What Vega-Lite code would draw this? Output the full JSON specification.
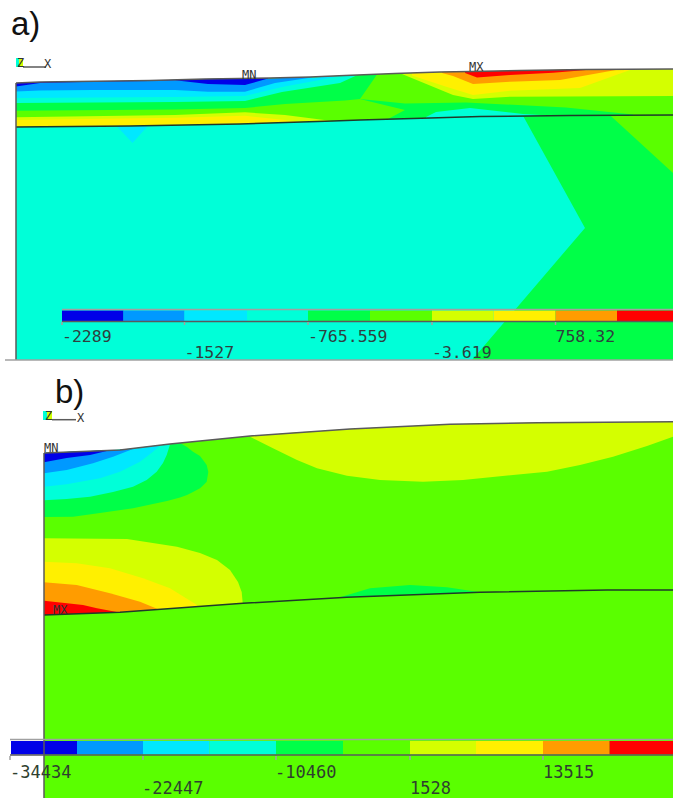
{"$schema":"https://vega.github.io/schema/vega-lite/v6.json","width":673,"height":798,"padding":0,"autosize":{"type":"none"},"background":"white","config":{"view":{"stroke":null}},
"datasets":{
"regions":[
{"region":"a01","band":"B6","x":16,"y":83,"y2":128},{"region":"a01","band":"B6","x":40,"y":82,"y2":128},{"region":"a01","band":"B6","x":150,"y":80.5,"y2":128},{"region":"a01","band":"B6","x":205,"y":79,"y2":128},{"region":"a01","band":"B6","x":270,"y":78,"y2":128},{"region":"a01","band":"B6","x":310,"y":77,"y2":128},{"region":"a01","band":"B6","x":345,"y":75.5,"y2":128},{"region":"a01","band":"B6","x":395,"y":73.5,"y2":128},{"region":"a01","band":"B6","x":440,"y":72,"y2":128},{"region":"a01","band":"B6","x":470,"y":71.5,"y2":128},{"region":"a01","band":"B6","x":520,"y":70.5,"y2":128},{"region":"a01","band":"B6","x":585,"y":69.5,"y2":128},{"region":"a01","band":"B6","x":673,"y":69,"y2":128},
{"region":"a02","band":"B1","x":16,"y":83,"y2":128},{"region":"a02","band":"B1","x":40,"y":82,"y2":128},{"region":"a02","band":"B1","x":150,"y":80.5,"y2":128},{"region":"a02","band":"B1","x":205,"y":79,"y2":128},{"region":"a02","band":"B1","x":268,"y":78,"y2":128},
{"region":"a03","band":"B2","x":16,"y":86.5,"y2":128},{"region":"a03","band":"B2","x":40,"y":83,"y2":128},{"region":"a03","band":"B2","x":93,"y":81.8,"y2":128},{"region":"a03","band":"B2","x":150,"y":81,"y2":128},{"region":"a03","band":"B2","x":175,"y":80.3,"y2":128},{"region":"a03","band":"B2","x":208,"y":84,"y2":128},{"region":"a03","band":"B2","x":245,"y":85,"y2":128},{"region":"a03","band":"B2","x":268,"y":78.5,"y2":128},{"region":"a03","band":"B2","x":312,"y":77,"y2":128},
{"region":"a04","band":"B3","x":16,"y":91.5,"y2":128},{"region":"a04","band":"B3","x":40,"y":90.5,"y2":128},{"region":"a04","band":"B3","x":93,"y":90,"y2":128},{"region":"a04","band":"B3","x":175,"y":90,"y2":128},{"region":"a04","band":"B3","x":208,"y":91.7,"y2":128},{"region":"a04","band":"B3","x":245,"y":91.7,"y2":128},{"region":"a04","band":"B3","x":275,"y":83,"y2":128},{"region":"a04","band":"B3","x":312,"y":77.5,"y2":128},{"region":"a04","band":"B3","x":340,"y":76,"y2":128},
{"region":"a05","band":"B4","x":16,"y":98,"y2":128},{"region":"a05","band":"B4","x":175,"y":97,"y2":128},{"region":"a05","band":"B4","x":245,"y":96,"y2":128},{"region":"a05","band":"B4","x":282,"y":87,"y2":128},{"region":"a05","band":"B4","x":340,"y":76.3,"y2":128},{"region":"a05","band":"B4","x":357,"y":75,"y2":128},
{"region":"a06","band":"B5","x":16,"y":103,"y2":128},{"region":"a06","band":"B5","x":175,"y":102,"y2":128},{"region":"a06","band":"B5","x":245,"y":101,"y2":128},{"region":"a06","band":"B5","x":282,"y":92,"y2":128},{"region":"a06","band":"B5","x":340,"y":83,"y2":128},{"region":"a06","band":"B5","x":357,"y":75.3,"y2":110},{"region":"a06","band":"B5","x":360,"y":75.2,"y2":99},{"region":"a06","band":"B5","x":377,"y":74.4,"y2":74.4},
{"region":"a07","band":"B5","x":360,"y":99,"y2":128},{"region":"a07","band":"B5","x":405,"y":103.5,"y2":128},{"region":"a07","band":"B5","x":466,"y":102.5,"y2":128},{"region":"a07","band":"B5","x":566,"y":107.5,"y2":128},{"region":"a07","band":"B5","x":633,"y":114.5,"y2":128},
{"region":"a08","band":"B6","x":16,"y":110.7,"y2":128},{"region":"a08","band":"B6","x":175,"y":109.5,"y2":128},{"region":"a08","band":"B6","x":245,"y":108,"y2":128},{"region":"a08","band":"B6","x":285,"y":104,"y2":128},{"region":"a08","band":"B6","x":345,"y":100.5,"y2":128},{"region":"a08","band":"B6","x":360,"y":99,"y2":128},{"region":"a08","band":"B6","x":371,"y":101.7,"y2":128},{"region":"a08","band":"B6","x":405,"y":110,"y2":110},
{"region":"a09","band":"B7","x":16,"y":117.3,"y2":128},{"region":"a09","band":"B7","x":175,"y":115,"y2":128},{"region":"a09","band":"B7","x":245,"y":112.3,"y2":128},{"region":"a09","band":"B7","x":285,"y":115,"y2":128},{"region":"a09","band":"B7","x":332,"y":121,"y2":128},
{"region":"a10","band":"B8","x":16,"y":120,"y2":128},{"region":"a10","band":"B8","x":175,"y":117.7,"y2":128},{"region":"a10","band":"B8","x":245,"y":115.7,"y2":128},{"region":"a10","band":"B8","x":285,"y":120,"y2":128},{"region":"a10","band":"B8","x":308,"y":122.5,"y2":128},
{"region":"a11","band":"B4","x":426,"y":117,"y2":128},{"region":"a11","band":"B4","x":436,"y":112,"y2":128},{"region":"a11","band":"B4","x":470,"y":108,"y2":128},{"region":"a11","band":"B4","x":523,"y":114,"y2":128},{"region":"a11","band":"B4","x":550,"y":115.5,"y2":128},
{"region":"a12","band":"B7","x":402,"y":73.3,"y2":74},{"region":"a12","band":"B7","x":453,"y":71.8,"y2":95},{"region":"a12","band":"B7","x":473,"y":71.4,"y2":99},{"region":"a12","band":"B7","x":510,"y":70.7,"y2":96.7},{"region":"a12","band":"B7","x":673,"y":69,"y2":96},
{"region":"a13","band":"B8","x":412,"y":73,"y2":75.5},{"region":"a13","band":"B8","x":447,"y":71.9,"y2":87},{"region":"a13","band":"B8","x":473,"y":71.4,"y2":95},{"region":"a13","band":"B8","x":510,"y":70.7,"y2":90.7},{"region":"a13","band":"B8","x":580,"y":69.6,"y2":88},{"region":"a13","band":"B8","x":630,"y":69.3,"y2":70},
{"region":"a14","band":"B9","x":442,"y":72,"y2":73},{"region":"a14","band":"B9","x":453,"y":71.8,"y2":76},{"region":"a14","band":"B9","x":473,"y":71.4,"y2":84},{"region":"a14","band":"B9","x":510,"y":70.7,"y2":81.7},{"region":"a14","band":"B9","x":560,"y":69.9,"y2":80},{"region":"a14","band":"B9","x":616,"y":69.3,"y2":70},
{"region":"a15","band":"B10","x":465,"y":71.5,"y2":73},{"region":"a15","band":"B10","x":477,"y":71.3,"y2":77.5},{"region":"a15","band":"B10","x":510,"y":70.7,"y2":75},{"region":"a15","band":"B10","x":553,"y":70,"y2":72.7},{"region":"a15","band":"B10","x":586,"y":69.5,"y2":70},
{"region":"a16","band":"B4","x":16,"y":127,"y2":360},{"region":"a16","band":"B4","x":130,"y":126,"y2":360},{"region":"a16","band":"B4","x":185,"y":125,"y2":360},{"region":"a16","band":"B4","x":240,"y":124,"y2":360},{"region":"a16","band":"B4","x":270,"y":123,"y2":360},{"region":"a16","band":"B4","x":333,"y":121,"y2":360},{"region":"a16","band":"B4","x":360,"y":120,"y2":360},{"region":"a16","band":"B4","x":430,"y":118,"y2":360},{"region":"a16","band":"B4","x":480,"y":116.5,"y2":360},{"region":"a16","band":"B4","x":570,"y":115.5,"y2":360},{"region":"a16","band":"B4","x":673,"y":115,"y2":360},
{"region":"a17","band":"B3","x":117,"y":126.4,"y2":126.4},{"region":"a17","band":"B3","x":132.5,"y":126,"y2":143},{"region":"a17","band":"B3","x":148,"y":125.7,"y2":125.7},
{"region":"a18","band":"B5","x":472,"y":116.8,"y2":360},{"region":"a18","band":"B5","x":570,"y":115.5,"y2":360},{"region":"a18","band":"B5","x":673,"y":115,"y2":360},
{"region":"a19","band":"B6","x":610,"y":115.3,"y2":115.3},{"region":"a19","band":"B6","x":673,"y":115,"y2":173},
{"region":"a20","band":"B4","x":472,"y":116.8,"y2":360},{"region":"a20","band":"B4","x":523,"y":115.8,"y2":300.4},{"region":"a20","band":"B4","x":585,"y":228,"y2":228},
{"region":"b01","band":"B6","x":44,"y":453,"y2":798},{"region":"b01","band":"B6","x":120,"y":450,"y2":798},{"region":"b01","band":"B6","x":170,"y":444,"y2":798},{"region":"b01","band":"B6","x":250,"y":436,"y2":798},{"region":"b01","band":"B6","x":350,"y":429,"y2":798},{"region":"b01","band":"B6","x":450,"y":424.3,"y2":798},{"region":"b01","band":"B6","x":538,"y":422.7,"y2":798},{"region":"b01","band":"B6","x":673,"y":421.7,"y2":798},
{"region":"b02","band":"B7","x":250,"y":436,"y2":436.7},{"region":"b02","band":"B7","x":273,"y":434.4,"y2":448.3},{"region":"b02","band":"B7","x":297,"y":432.3,"y2":460},{"region":"b02","band":"B7","x":317,"y":431.3,"y2":468.3},{"region":"b02","band":"B7","x":347,"y":429.2,"y2":475.7},{"region":"b02","band":"B7","x":380,"y":427.4,"y2":480},{"region":"b02","band":"B7","x":423,"y":425.5,"y2":481.7},{"region":"b02","band":"B7","x":463,"y":424,"y2":480},{"region":"b02","band":"B7","x":513,"y":423,"y2":475},{"region":"b02","band":"B7","x":547,"y":422.6,"y2":471.7},{"region":"b02","band":"B7","x":580,"y":422.3,"y2":465},{"region":"b02","band":"B7","x":613,"y":422,"y2":456.7},{"region":"b02","band":"B7","x":647,"y":421.9,"y2":446},{"region":"b02","band":"B7","x":673,"y":421.7,"y2":436.7},
{"region":"b03","band":"B5","x":44,"y":453,"y2":517},{"region":"b03","band":"B5","x":73,"y":451.5,"y2":516.7},{"region":"b03","band":"B5","x":100,"y":450.8,"y2":513},{"region":"b03","band":"B5","x":133,"y":449,"y2":508.3},{"region":"b03","band":"B5","x":167,"y":444.8,"y2":501},{"region":"b03","band":"B5","x":180,"y":443,"y2":497.5},{"region":"b03","band":"B5","x":187,"y":447,"y2":495},{"region":"b03","band":"B5","x":193,"y":451.7,"y2":492},{"region":"b03","band":"B5","x":200,"y":456,"y2":488.3},{"region":"b03","band":"B5","x":203,"y":460,"y2":485.5},{"region":"b03","band":"B5","x":206.7,"y":465,"y2":481.7},{"region":"b03","band":"B5","x":208.3,"y":472,"y2":472},
{"region":"b04","band":"B4","x":44,"y":453,"y2":500.3},{"region":"b04","band":"B4","x":66.7,"y":452,"y2":499},{"region":"b04","band":"B4","x":90,"y":451,"y2":496.7},{"region":"b04","band":"B4","x":113,"y":450.1,"y2":492},{"region":"b04","band":"B4","x":133,"y":448.5,"y2":486.7},{"region":"b04","band":"B4","x":146.7,"y":446.5,"y2":480},{"region":"b04","band":"B4","x":156.7,"y":445.5,"y2":471.7},{"region":"b04","band":"B4","x":163,"y":445,"y2":463},{"region":"b04","band":"B4","x":166.7,"y":445,"y2":455},{"region":"b04","band":"B4","x":170,"y":444.5,"y2":444.5},
{"region":"b05","band":"B3","x":44,"y":453,"y2":486.7},{"region":"b05","band":"B3","x":66.7,"y":452,"y2":484.3},{"region":"b05","band":"B3","x":100,"y":450.8,"y2":478.3},{"region":"b05","band":"B3","x":120,"y":450,"y2":471.7},{"region":"b05","band":"B3","x":140,"y":448,"y2":461.7},{"region":"b05","band":"B3","x":153,"y":446.5,"y2":451.7},{"region":"b05","band":"B3","x":160,"y":445.5,"y2":445.5},
{"region":"b06","band":"B2","x":44,"y":453,"y2":473.3},{"region":"b06","band":"B2","x":66.7,"y":452,"y2":470},{"region":"b06","band":"B2","x":93,"y":451,"y2":463.3},{"region":"b06","band":"B2","x":113,"y":450.2,"y2":456.7},{"region":"b06","band":"B2","x":133,"y":449,"y2":449},
{"region":"b07","band":"B1","x":44,"y":453,"y2":462.3},{"region":"b07","band":"B1","x":66.7,"y":452,"y2":458},{"region":"b07","band":"B1","x":90,"y":451,"y2":455},{"region":"b07","band":"B1","x":110,"y":450.3,"y2":450.3},
{"region":"b08","band":"B7","x":44,"y":538.3,"y2":616},{"region":"b08","band":"B7","x":127,"y":539,"y2":616},{"region":"b08","band":"B7","x":177,"y":546.7,"y2":616},{"region":"b08","band":"B7","x":200,"y":553,"y2":616},{"region":"b08","band":"B7","x":217,"y":560,"y2":616},{"region":"b08","band":"B7","x":230,"y":570,"y2":616},{"region":"b08","band":"B7","x":238,"y":582,"y2":616},{"region":"b08","band":"B7","x":241.7,"y":592,"y2":616},{"region":"b08","band":"B7","x":242.7,"y":603.3,"y2":616},
{"region":"b09","band":"B8","x":44,"y":561.7,"y2":616},{"region":"b09","band":"B8","x":76.7,"y":563.3,"y2":616},{"region":"b09","band":"B8","x":110,"y":568.3,"y2":616},{"region":"b09","band":"B8","x":143,"y":578.3,"y2":616},{"region":"b09","band":"B8","x":170,"y":588.3,"y2":616},{"region":"b09","band":"B8","x":197,"y":605,"y2":616},
{"region":"b10","band":"B9","x":44,"y":582.3,"y2":616},{"region":"b10","band":"B9","x":76.7,"y":585,"y2":616},{"region":"b10","band":"B9","x":110,"y":593.3,"y2":616},{"region":"b10","band":"B9","x":140,"y":601.7,"y2":616},{"region":"b10","band":"B9","x":160,"y":610,"y2":616},
{"region":"b11","band":"B10","x":44,"y":600.7,"y2":616},{"region":"b11","band":"B10","x":67,"y":603.3,"y2":616},{"region":"b11","band":"B10","x":83,"y":605,"y2":616},{"region":"b11","band":"B10","x":97,"y":608.3,"y2":616},{"region":"b11","band":"B10","x":122,"y":613,"y2":616},
{"region":"b12","band":"B5","x":340,"y":597.3,"y2":616},{"region":"b12","band":"B5","x":370,"y":588.3,"y2":616},{"region":"b12","band":"B5","x":410,"y":585,"y2":616},{"region":"b12","band":"B5","x":447,"y":587.3,"y2":616},{"region":"b12","band":"B5","x":480,"y":592.3,"y2":616},
{"region":"b13","band":"B6","x":44,"y":615,"y2":798},{"region":"b13","band":"B6","x":120,"y":612.3,"y2":798},{"region":"b13","band":"B6","x":243,"y":603.3,"y2":798},{"region":"b13","band":"B6","x":347,"y":597.3,"y2":798},{"region":"b13","band":"B6","x":480,"y":592.3,"y2":798},{"region":"b13","band":"B6","x":607,"y":590,"y2":798},{"region":"b13","band":"B6","x":673,"y":590,"y2":798}
],
"lines":[
{"line":"aTop","kind":"outline","x":16,"y":83},{"line":"aTop","kind":"outline","x":40,"y":82},{"line":"aTop","kind":"outline","x":150,"y":80.5},{"line":"aTop","kind":"outline","x":205,"y":79},{"line":"aTop","kind":"outline","x":270,"y":78},{"line":"aTop","kind":"outline","x":310,"y":77},{"line":"aTop","kind":"outline","x":345,"y":75.5},{"line":"aTop","kind":"outline","x":395,"y":73.5},{"line":"aTop","kind":"outline","x":440,"y":72},{"line":"aTop","kind":"outline","x":470,"y":71.5},{"line":"aTop","kind":"outline","x":520,"y":70.5},{"line":"aTop","kind":"outline","x":585,"y":69.5},{"line":"aTop","kind":"outline","x":673,"y":69},
{"line":"aInt","kind":"interface","x":16,"y":127},{"line":"aInt","kind":"interface","x":130,"y":126},{"line":"aInt","kind":"interface","x":185,"y":125},{"line":"aInt","kind":"interface","x":240,"y":124},{"line":"aInt","kind":"interface","x":270,"y":123},{"line":"aInt","kind":"interface","x":333,"y":121},{"line":"aInt","kind":"interface","x":360,"y":120},{"line":"aInt","kind":"interface","x":430,"y":118},{"line":"aInt","kind":"interface","x":480,"y":116.5},{"line":"aInt","kind":"interface","x":570,"y":115.5},{"line":"aInt","kind":"interface","x":673,"y":115},
{"line":"aLeft","kind":"outline","x":16,"y":83},{"line":"aLeft","kind":"outline","x":16,"y":360},
{"line":"aBase","kind":"frame","x":5,"y":360},{"line":"aBase","kind":"frame","x":673,"y":360},
{"line":"aAxis","kind":"outline","x":23,"y":67},{"line":"aAxis","kind":"outline","x":46,"y":67},
{"line":"aBarTop","kind":"frame","x":62,"y":309.5},{"line":"aBarTop","kind":"frame","x":673,"y":309.5},
{"line":"aBarLow","kind":"outline","x":62,"y":321.5},{"line":"aBarLow","kind":"outline","x":673,"y":321.5},
{"line":"aT1","kind":"frame","x":62,"y":322},{"line":"aT1","kind":"frame","x":62,"y":325},
{"line":"aT2","kind":"frame","x":184.5,"y":322},{"line":"aT2","kind":"frame","x":184.5,"y":325},
{"line":"aT3","kind":"frame","x":308,"y":322},{"line":"aT3","kind":"frame","x":308,"y":325},
{"line":"aT4","kind":"frame","x":432,"y":322},{"line":"aT4","kind":"frame","x":432,"y":325},
{"line":"aT5","kind":"frame","x":555.5,"y":322},{"line":"aT5","kind":"frame","x":555.5,"y":325},
{"line":"bTop","kind":"outline","x":44,"y":453},{"line":"bTop","kind":"outline","x":120,"y":450},{"line":"bTop","kind":"outline","x":170,"y":444},{"line":"bTop","kind":"outline","x":250,"y":436},{"line":"bTop","kind":"outline","x":350,"y":429},{"line":"bTop","kind":"outline","x":450,"y":424.3},{"line":"bTop","kind":"outline","x":538,"y":422.7},{"line":"bTop","kind":"outline","x":673,"y":421.7},
{"line":"bInt","kind":"interface","x":44,"y":615},{"line":"bInt","kind":"interface","x":120,"y":612.3},{"line":"bInt","kind":"interface","x":243,"y":603.3},{"line":"bInt","kind":"interface","x":347,"y":597.3},{"line":"bInt","kind":"interface","x":480,"y":592.3},{"line":"bInt","kind":"interface","x":607,"y":590},{"line":"bInt","kind":"interface","x":673,"y":590},
{"line":"bLeft","kind":"outline","x":44,"y":453},{"line":"bLeft","kind":"outline","x":44,"y":798},
{"line":"bAxis","kind":"outline","x":52,"y":419.7},{"line":"bAxis","kind":"outline","x":76,"y":419.7},
{"line":"bBarTop","kind":"frame","x":10,"y":739.5},{"line":"bBarTop","kind":"frame","x":673,"y":739.5},
{"line":"bBarLow","kind":"outline","x":10,"y":755},{"line":"bBarLow","kind":"outline","x":673,"y":755},
{"line":"bT1","kind":"frame","x":10,"y":756},{"line":"bT1","kind":"frame","x":10,"y":760},
{"line":"bT2","kind":"frame","x":143,"y":756},{"line":"bT2","kind":"frame","x":143,"y":760},
{"line":"bT3","kind":"frame","x":276,"y":756},{"line":"bT3","kind":"frame","x":276,"y":760},
{"line":"bT4","kind":"frame","x":410,"y":756},{"line":"bT4","kind":"frame","x":410,"y":760},
{"line":"bT5","kind":"frame","x":543,"y":756},{"line":"bT5","kind":"frame","x":543,"y":760}
],
"swatches":[
{"band":"B1","x":62,"x2":123.5,"y":310.5,"y2":321},{"band":"B2","x":123.5,"x2":184.5,"y":310.5,"y2":321},{"band":"B3","x":184.5,"x2":247,"y":310.5,"y2":321},{"band":"B4","x":247,"x2":308,"y":310.5,"y2":321},{"band":"B5","x":308,"x2":370,"y":310.5,"y2":321},{"band":"B6","x":370,"x2":432,"y":310.5,"y2":321},{"band":"B7","x":432,"x2":493.5,"y":310.5,"y2":321},{"band":"B8","x":493.5,"x2":555.5,"y":310.5,"y2":321},{"band":"B9","x":555.5,"x2":617,"y":310.5,"y2":321},{"band":"B10","x":617,"x2":673,"y":310.5,"y2":321},
{"band":"B1","x":11,"x2":77,"y":741,"y2":754.5},{"band":"B2","x":77,"x2":143,"y":741,"y2":754.5},{"band":"B3","x":143,"x2":209.5,"y":741,"y2":754.5},{"band":"B4","x":209.5,"x2":276,"y":741,"y2":754.5},{"band":"B5","x":276,"x2":343,"y":741,"y2":754.5},{"band":"B6","x":343,"x2":410,"y":741,"y2":754.5},{"band":"B7","x":410,"x2":476,"y":741,"y2":754.5},{"band":"B8","x":476,"x2":543,"y":741,"y2":754.5},{"band":"B9","x":543,"x2":609.5,"y":741,"y2":754.5},{"band":"B10","x":609.5,"x2":673,"y":741,"y2":754.5},
{"band":"B4","x":16,"x2":19,"y":58,"y2":67},{"band":"B7","x":19,"x2":23,"y":58,"y2":67},
{"band":"B4","x":43,"x2":47,"y":411,"y2":420},{"band":"B7","x":47,"x2":52,"y":411,"y2":420}
],
"labelsA":[{"label":"-2289","x":62,"y":342},{"label":"-1527","x":184.5,"y":358},{"label":"-765.559","x":308,"y":342},{"label":"-3.619","x":432,"y":358},{"label":"758.32","x":555.5,"y":342}],
"labelsB":[{"label":"-34434","x":10,"y":777.5},{"label":"-22447","x":142,"y":794},{"label":"-10460","x":275,"y":777.5},{"label":"1528","x":410,"y":794},{"label":"13515","x":543,"y":777.5}],
"tags":[{"label":"MN","x":242,"y":79},{"label":"MX","x":469,"y":71},{"label":"MN","x":44,"y":452},{"label":"MX","x":53,"y":614},{"label":"X","x":44,"y":68},{"label":"X","x":77,"y":422},{"label":"Z","x":17,"y":67},{"label":"Z","x":45,"y":420}],
"titles":[{"label":"a)","x":11,"y":35},{"label":"b)","x":55,"y":403}]
},
"encoding":{
"x":{"field":"x","type":"quantitative","scale":{"domain":[0,673],"nice":false,"zero":false},"axis":null},
"y":{"field":"y","type":"quantitative","scale":{"domain":[798,0],"nice":false,"zero":false},"axis":null}
},
"layer":[
{"data":{"name":"regions"},"mark":{"type":"area","clip":true,"opacity":1},
"encoding":{"y2":{"field":"y2"},"detail":{"field":"region"},
"color":{"field":"band","type":"nominal","legend":null,"scale":{"domain":["B1","B2","B3","B4","B5","B6","B7","B8","B9","B10"],"range":["#0000e8","#0099ff","#00e8ff","#00ffd8","#00ff48","#5aff00","#d4ff00","#fff000","#ff9c00","#ff0000"]}}}},
{"data":{"name":"swatches"},"mark":{"type":"rect"},
"encoding":{"x2":{"field":"x2"},"y2":{"field":"y2"},
"color":{"field":"band","type":"nominal","legend":null,"scale":{"domain":["B1","B2","B3","B4","B5","B6","B7","B8","B9","B10"],"range":["#0000e8","#0099ff","#00e8ff","#00ffd8","#00ff48","#5aff00","#d4ff00","#fff000","#ff9c00","#ff0000"]}}}},
{"data":{"name":"lines"},"mark":{"type":"line","strokeWidth":1.5,"clip":true},
"encoding":{"detail":{"field":"line"},
"stroke":{"field":"kind","type":"nominal","legend":null,"scale":{"domain":["outline","interface","frame"],"range":["#5a5a5a","#1f3a2a","#a0a0a0"]}}}},
{"data":{"name":"labelsA"},"mark":{"type":"text","font":"DejaVu Sans Mono","fontSize":16.5,"align":"left","baseline":"alphabetic","color":"#2f3f3f"},"encoding":{"text":{"field":"label"}}},
{"data":{"name":"labelsB"},"mark":{"type":"text","font":"DejaVu Sans Mono","fontSize":17,"align":"left","baseline":"alphabetic","color":"#2f3f2f"},"encoding":{"text":{"field":"label"}}},
{"data":{"name":"tags"},"mark":{"type":"text","font":"DejaVu Sans Mono","fontSize":12,"align":"left","baseline":"alphabetic","color":"#333333"},"encoding":{"text":{"field":"label"}}},
{"data":{"name":"titles"},"mark":{"type":"text","font":"Liberation Sans","fontSize":33,"align":"left","baseline":"alphabetic","color":"#111111"},"encoding":{"text":{"field":"label"}}}
]}
